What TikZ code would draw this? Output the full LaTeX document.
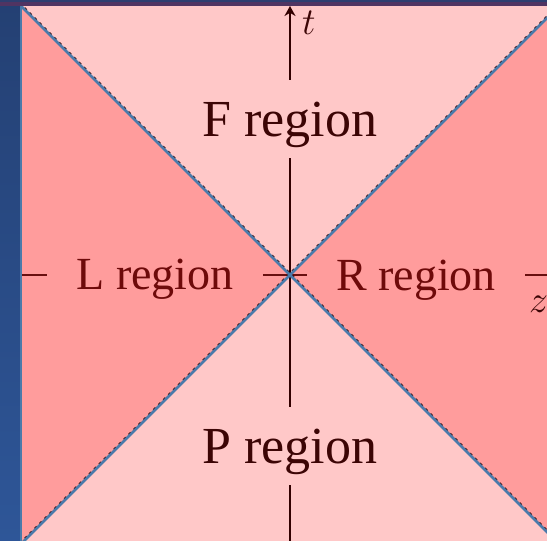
\RequirePackage{fix-cm}
\documentclass[tikz,border=0pt]{standalone}
\usepackage{fontspec}
\setmainfont{Liberation Serif}
\usetikzlibrary{arrows.meta}
\definecolor{lightreg}{RGB}{255,200,200}
\definecolor{darkreg}{RGB}{255,156,156}
\definecolor{coneblue}{RGB}{74,122,170}
\definecolor{textdark}{RGB}{60,5,5}
\definecolor{textred}{RGB}{110,10,10}
\definecolor{axisdark}{RGB}{50,0,0}
\definecolor{axisred}{RGB}{105,15,15}
\definecolor{slidetop}{RGB}{36,64,115}
\definecolor{slidebot}{RGB}{46,86,152}
\definecolor{slidebar}{RGB}{80,52,98}
\begin{document}
\begin{tikzpicture}[x=1pt, y=-1pt, >=Stealth,
    vaxis/.style={line width=1.6pt, draw=axisdark},
    haxis/.style={line width=1.6pt, draw=axisred},
    cone/.style={line width=2.6pt, draw=coneblue},
    edge/.style={dashed, dash pattern=on 3pt off 4pt, line width=1.2pt, draw=axisdark},
    bigreg/.style={text=textdark, font=\fontsize{52}{60}\selectfont, inner sep=0pt, text height=56pt, text depth=22pt, anchor=base},
    sidereg/.style={text=textred, font=\fontsize{46}{54}\selectfont, inner xsep=29pt, inner ysep=0pt, anchor=base},
    coordlab/.style={text=textdark, font=\fontsize{38}{44}\selectfont, inner sep=0pt, anchor=north west}]
  \useasboundingbox (0,0) rectangle (547,541);
  % 1. 幻灯片边框
  \shade[top color=slidetop, bottom color=slidebot] (0,0) rectangle (21,541);
  \fill[slidebar] (0,0) rectangle (547,6);
  \fill[slidetop!80!slidebar] (0,0) rectangle (547,2);
  \draw[coneblue, line width=1.2pt] (21,6) -- (21,541);

  \begin{scope}
    \clip (22,6) rectangle (547,541);
    \coordinate (O) at (290,275);
    \coordinate (tl) at (-10,-25);
    \coordinate (br) at (590,575);
    \coordinate (bl) at (-10,575);
    \coordinate (tr) at (590,-25);
    % 2. 区域填充
    \fill[lightreg] (22,6) rectangle (547,541);
    \fill[darkreg] (O) -- (tl) -- (bl) -- cycle;
    \fill[darkreg] (O) -- (tr) -- (br) -- cycle;

    % 3. 区域标签
    \node[bigreg] (F) at (290,136) {F region};
    \node[bigreg] (P) at (290,463) {P region};
    \node[sidereg] (L) at (155,289) {L region};
    \node[sidereg] (R) at (416,290) {R region};

    % 4. 坐标轴
    \coordinate (ttop) at (290,6);
    \coordinate (tbot) at (290,560);
    \coordinate (zleft) at (10,275);
    \coordinate (zright) at (570,275);
    \draw[vaxis, -{Stealth[length=10pt, width=11pt]}] (F.north) -- (ttop);
    \draw[vaxis] (F.south) -- (P.north);
    \draw[vaxis] (P.south) -- (tbot);
    \draw[haxis] (zleft) -- (L.west |- O);
    \draw[haxis] (L.east |- O) -- (R.west |- O);
    \draw[haxis] (R.east |- O) -- (zright);
    \node[coordlab] (tlab) at (302,11) {$t$};
    \node[coordlab] (zlab) at (529,296) {$z$};

    % 5. 光锥
    \draw[edge] ([yshift=2pt]tl) -- ([yshift=2pt]br);
    \draw[edge] ([yshift=2pt]bl) -- ([yshift=2pt]tr);
    \draw[cone] (tl) -- (br);
    \draw[cone] (bl) -- (tr);
  \end{scope}
\end{tikzpicture}
\end{document}
